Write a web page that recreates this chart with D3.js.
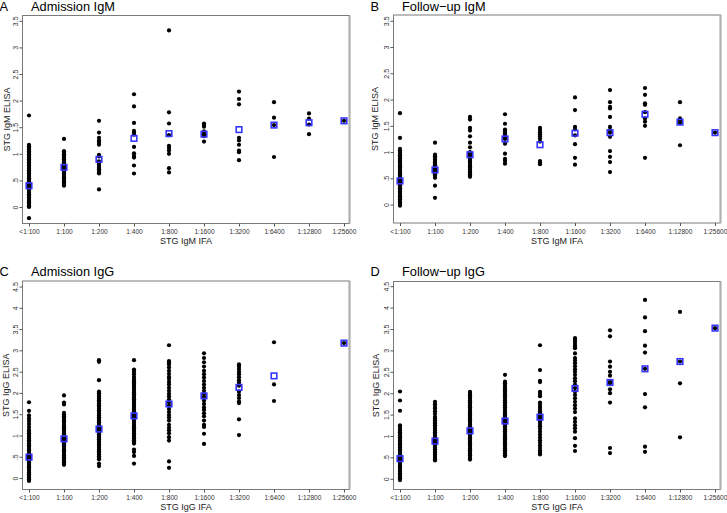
<!DOCTYPE html>
<html><head><meta charset="utf-8">
<script src="https://cdn.jsdelivr.net/npm/d3@7"></script>
<style>
html,body{margin:0;padding:0;background:#fff;}
svg{display:block;font-family:"Liberation Sans",Arial,Helvetica,sans-serif;}
</style></head>
<body>
<svg id="chart" width="727" height="513"></svg>
<script>
// ---------- DATA ----------
const categories = ["<1:100","1:100","1:200","1:400","1:800","1:1600","1:3200","1:6400","1:12800","1:25600"];
const yTicksIgM = [0,0.5,1,1.5,2,2.5,3,3.5];
const yTickLabelsIgM = ["0",".5","1","1.5","2","2.5","3","3.5"];
const yTicksIgG = [0,0.5,1,1.5,2,2.5,3,3.5,4,4.5];
const yTickLabelsIgG = ["0",".5","1","1.5","2","2.5","3","3.5","4","4.5"];

// Panel A: Admission IgM (values per IFA category)
const admIgM = [
  [1.72,1.17,1.14,1.11,1.08,1.05,1.02,0.99,0.96,0.93,0.90,0.87,0.84,0.81,0.78,0.75,0.72,0.69,0.66,0.63,0.60,0.57,0.54,0.51,0.48,0.45,0.42,0.39,0.36,0.33,0.30,0.27,0.24,0.21,0.18,0.15,0.12,0.09,0.06,0.03,0.01,0.00,-0.21],
  [1.28,1.05,1.02,0.99,0.96,0.93,0.90,0.87,0.84,0.81,0.78,0.75,0.72,0.69,0.66,0.63,0.60,0.57,0.54,0.51,0.48,0.45,0.42,0.40],
  [1.62,1.40,1.30,1.25,1.21,1.17,0.98,0.95,0.86,0.83,0.80,0.77,0.74,0.71,0.68,0.65,0.63,0.33],
  [2.12,1.89,1.58,1.43,1.40,1.36,1.13,1.01,0.96,0.93,0.78,0.63],
  [3.32,1.78,1.57,1.35,1.15,1.11,1.06,1.00,0.73,0.65],
  [1.57,1.54,1.51,1.42,1.37,1.33,1.23],
  [2.17,2.03,1.93,1.30,1.25,1.17,1.06,1.03,0.88],
  [1.97,1.68,1.54,0.94],
  [1.76,1.66,1.55,1.37],
  [1.62]
];
const admIgMMean = [0.40,0.745,0.895,1.29,1.38,1.37,1.455,1.54,1.585,1.62];

// Panel B: Follow-up IgM
const folIgM = [
  [1.74,1.27,1.06,1.03,1.00,0.97,0.94,0.91,0.88,0.85,0.82,0.79,0.76,0.73,0.70,0.67,0.64,0.61,0.58,0.55,0.52,0.49,0.46,0.43,0.40,0.37,0.34,0.31,0.28,0.25,0.22,0.19,0.16,0.13,0.10,0.07,0.04,0.01,-0.02],
  [1.18,0.95,0.92,0.89,0.86,0.83,0.80,0.77,0.75,0.70,0.67,0.64,0.61,0.58,0.55,0.51,0.36,0.13],
  [1.67,1.62,1.46,1.41,1.30,1.18,1.09,1.00,0.97,0.94,0.91,0.88,0.85,0.82,0.79,0.76,0.73,0.70,0.67,0.64,0.61,0.58,0.55,0.53],
  [1.72,1.54,1.43,1.39,1.36,1.33,1.29,1.25,1.16,0.97,0.87,0.83,0.78],
  [1.46,1.42,1.38,1.34,1.30,1.26,1.20,0.83,0.80,0.77],
  [2.04,1.80,1.48,1.43,1.32,1.15,0.89,0.76],
  [2.18,1.95,1.86,1.83,1.67,1.48,1.42,1.37,1.29,1.02,0.91,0.81,0.62],
  [2.22,2.09,1.93,1.90,1.76,1.64,1.58,1.50,0.89],
  [1.95,1.64,1.61,1.56,1.13],
  [1.37]
];
const folIgMMean = [0.45,0.66,0.95,1.25,1.14,1.36,1.37,1.72,1.57,1.37];

// Panel C: Admission IgG
const admIgG = [
  [1.78,1.58,1.47,1.40,1.34,1.27,1.20,1.13,1.09,1.05,1.01,0.97,0.93,0.89,0.85,0.81,0.77,0.73,0.69,0.65,0.61,0.57,0.53,0.49,0.45,0.41,0.37,0.33,0.29,0.25,0.21,0.17,0.13,0.09,0.05,0.01,-0.03,-0.07],
  [1.94,1.77,1.73,1.53,1.49,1.45,1.41,1.37,1.33,1.29,1.25,1.21,1.17,1.13,1.09,1.05,1.01,0.97,0.93,0.89,0.85,0.81,0.77,0.73,0.69,0.65,0.61,0.57,0.53,0.49,0.45,0.41,0.37,0.33,0.31],
  [2.77,2.73,2.30,2.03,1.99,1.95,1.91,1.87,1.83,1.79,1.75,1.71,1.67,1.63,1.59,1.55,1.51,1.47,1.43,1.39,1.35,1.31,1.27,1.23,1.19,1.15,1.11,1.07,1.03,0.99,0.95,0.91,0.87,0.83,0.79,0.75,0.71,0.67,0.63,0.59,0.55,0.51,0.47,0.44,0.34,0.28],
  [2.77,2.55,2.50,2.44,2.38,2.33,2.29,2.25,2.21,2.17,2.13,2.09,2.05,2.01,1.97,1.93,1.89,1.85,1.81,1.77,1.73,1.69,1.65,1.61,1.57,1.53,1.49,1.45,1.41,1.37,1.33,1.29,1.25,1.21,1.17,1.13,1.09,1.05,1.01,0.97,0.93,0.89,0.85,0.81,0.67,0.61,0.52,0.34],
  [3.12,2.75,2.71,2.67,2.60,2.52,2.45,2.38,2.33,2.26,2.20,2.12,2.05,1.98,1.92,1.85,1.78,1.70,1.62,1.55,1.48,1.42,1.35,1.25,1.18,1.12,1.05,0.96,0.88,0.39,0.24],
  [2.93,2.82,2.72,2.62,2.52,2.44,2.36,2.28,2.20,2.12,2.05,1.98,1.91,1.82,1.74,1.66,1.60,1.52,1.45,1.35,1.25,1.20,1.04,0.80],
  [2.67,2.62,2.56,2.50,2.44,2.37,2.30,2.24,2.17,2.03,1.95,1.88,1.80,1.76,1.38,1.01],
  [3.19,2.20,1.81],
  [],
  [3.17]
];
const admIgGMean = [0.49,0.92,1.15,1.46,1.74,1.93,2.13,2.40,null,3.17];

// Panel D: Follow-up IgG
const folIgG = [
  [2.04,1.83,1.59,1.25,1.21,1.17,1.13,1.09,1.05,1.01,0.97,0.93,0.89,0.85,0.81,0.77,0.73,0.69,0.65,0.61,0.57,0.53,0.49,0.45,0.41,0.37,0.33,0.29,0.25,0.21,0.17,0.13,0.09,0.05,0.01,-0.03],
  [1.80,1.74,1.68,1.64,1.58,1.52,1.45,1.41,1.37,1.33,1.29,1.25,1.21,1.17,1.13,1.09,1.05,1.01,0.97,0.93,0.89,0.85,0.81,0.77,0.73,0.69,0.65,0.61,0.57,0.53,0.49,0.45,0.43],
  [2.03,1.99,1.95,1.91,1.87,1.83,1.79,1.75,1.71,1.67,1.63,1.59,1.55,1.51,1.47,1.43,1.39,1.35,1.31,1.27,1.23,1.19,1.15,1.11,1.07,1.03,0.99,0.95,0.91,0.87,0.83,0.79,0.75,0.71,0.67,0.63,0.59,0.55,0.51,0.47,0.45],
  [2.43,2.27,2.23,2.19,2.15,2.11,2.07,2.03,1.99,1.95,1.91,1.87,1.83,1.79,1.75,1.71,1.67,1.63,1.59,1.55,1.51,1.47,1.43,1.39,1.35,1.31,1.27,1.23,1.19,1.15,1.11,1.07,1.03,0.99,0.95,0.91,0.87,0.83,0.79,0.75,0.71,0.67,0.63,0.59,0.55,0.53],
  [3.12,2.54,2.29,2.26,2.03,1.98,1.93,1.78,1.73,1.68,1.63,1.58,1.53,1.48,1.43,1.38,1.33,1.28,1.23,1.17,1.10,1.03,0.96,0.90,0.84,0.78,0.72,0.66,0.61,0.57],
  [3.29,3.25,3.20,3.15,3.10,3.05,2.93,2.82,2.76,2.70,2.63,2.56,2.50,2.43,2.35,2.28,2.20,2.12,2.04,1.96,1.88,1.80,1.72,1.64,1.56,1.41,1.33,1.25,1.18,1.10,0.95,0.77,0.65],
  [3.47,3.33,2.74,2.62,2.50,2.41,2.27,2.23,2.09,2.00,1.78,0.72,0.60],
  [4.18,3.77,3.45,3.11,2.95,2.57,1.98,1.67,0.75,0.63],
  [3.90,2.74,2.23,0.97],
  [3.52]
];
const folIgGMean = [0.47,0.88,1.12,1.35,1.44,2.11,2.25,2.57,2.74,3.52];

// ---------- LAYOUT ----------
const panels = [
  {letter:"A", title:"Admission IgM", data:admIgM, means:admIgMMean, ticks:yTicksIgM, labels:yTickLabelsIgM,
   xTitle:"STG IgM IFA", yTitle:"STG IgM ELISA", box:{x:22.5,y:15.5,w:327,h:208}, dom:[-0.31,3.6], yTitleOff:12.5, titleOff:4.3},
  {letter:"B", title:"Follow\u2212up IgM", data:folIgM, means:folIgMMean, ticks:yTicksIgM, labels:yTickLabelsIgM,
   xTitle:"STG IgM IFA", yTitle:"STG IgM ELISA", box:{x:393.5,y:15,w:327,h:208}, dom:[-0.35,3.61], yTitleOff:15.5, titleOff:3.8},
  {letter:"C", title:"Admission IgG", data:admIgG, means:admIgGMean, ticks:yTicksIgG, labels:yTickLabelsIgG,
   xTitle:"STG IgG IFA", yTitle:"STG IgG ELISA", box:{x:22.5,y:281,w:327,h:208.5}, dom:[-0.27,4.63], yTitleOff:13.5, titleOff:5.3},
  {letter:"D", title:"Follow\u2212up IgG", data:folIgG, means:folIgGMean, ticks:yTicksIgG, labels:yTickLabelsIgG,
   xTitle:"STG IgG IFA", yTitle:"STG IgG ELISA", box:{x:393.5,y:281.5,w:327,h:208}, dom:[-0.25,4.61], yTitleOff:15, titleOff:5.8}
];

const svg = d3.select("#chart");

panels.forEach(p => {
  const b = p.box;
  const g = svg.append("g");
  const x = d3.scalePoint().domain(categories).range([b.x + 6.5, b.x + b.w - 5.5]);
  const y = d3.scaleLinear().domain(p.dom).range([b.y + b.h, b.y]);

  // box
  g.append("rect").attr("x", b.x).attr("y", b.y).attr("width", b.w).attr("height", b.h)
    .attr("fill", "none").attr("stroke", "#7a7a7a").attr("stroke-width", 1);
  g.append("line").attr("x1", b.x + b.w).attr("x2", b.x + b.w).attr("y1", b.y).attr("y2", b.y + b.h)
    .attr("stroke", "#b0b0b0").attr("stroke-width", 2.2);

  // y axis
  const ya = g.append("g").attr("transform", `translate(${b.x},0)`)
    .call(d3.axisLeft(y).tickValues(p.ticks).tickSize(3).tickFormat((d,i) => p.labels[i]));
  ya.select(".domain").remove();
  ya.selectAll(".tick line").attr("stroke", "#555");
  ya.selectAll(".tick text")
    .attr("x", 0).attr("y", -5).attr("dy", null)
    .attr("transform", "rotate(-90)")
    .attr("text-anchor", "middle")
    .attr("font-size", 7).attr("fill", "#333").attr("font-family", null);

  // x axis
  const xa = g.append("g").attr("transform", `translate(0,${b.y + b.h})`)
    .call(d3.axisBottom(x).tickSize(3).tickPadding(3));
  xa.select(".domain").remove();
  xa.selectAll(".tick line").attr("stroke", "#555");
  xa.selectAll(".tick text").attr("font-size", 6.6).attr("fill", "#333").attr("font-family", null);

  // axis titles
  g.append("text").attr("x", b.x + b.w / 2).attr("y", b.y + b.h + 20.5)
    .attr("text-anchor", "middle").attr("font-size", 9).attr("fill", "#222").text(p.xTitle);
  g.append("text").attr("transform", `translate(${b.x - p.yTitleOff},${b.y + b.h / 2}) rotate(-90)`)
    .attr("text-anchor", "middle").attr("font-size", 9).attr("fill", "#222").text(p.yTitle);

  // panel titles
  g.append("text").attr("x", b.x - 23).attr("y", b.y - p.titleOff).attr("font-size", 12.8).attr("fill", "#000").text(p.letter);
  g.append("text").attr("x", b.x + 8.5).attr("y", b.y - p.titleOff).attr("font-size", 12.8).attr("fill", "#000").text(p.title);

  // points
  const pts = [];
  p.data.forEach((vals, i) => vals.forEach(v => pts.push({c: categories[i], v})));
  g.append("g").selectAll("circle").data(pts).join("circle")
    .attr("cx", d => x(d.c)).attr("cy", d => y(d.v)).attr("r", 2.1).attr("fill", "#000");

  // means
  const ms = p.means.map((m, i) => ({c: categories[i], v: m})).filter(d => d.v != null);
  const s = 5.6;
  g.append("g").selectAll("rect").data(ms).join("rect")
    .attr("x", d => x(d.c) - s / 2).attr("y", d => y(d.v) - s / 2)
    .attr("width", s).attr("height", s)
    .attr("fill", "none").attr("stroke", "#3535ff").attr("stroke-width", 1.6);
});
</script>
</body></html>
